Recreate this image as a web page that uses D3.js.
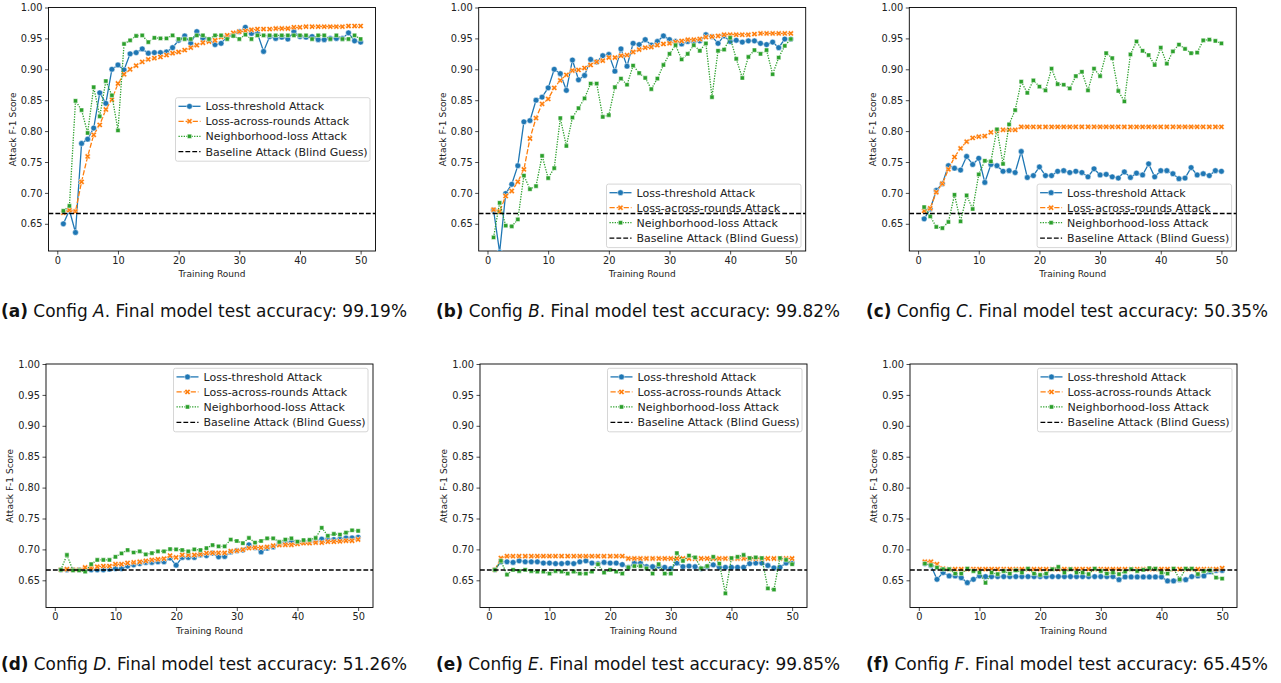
<!DOCTYPE html>
<html><head><meta charset="utf-8">
<script src="https://cdn.jsdelivr.net/npm/d3@7"></script>
<style>body{margin:0;background:#fff} svg{display:block}</style>
</head><body>
<svg id="c" width="1281" height="683"></svg>
<script>
// ---------------- DATA ----------------
const rounds = [1,2,3,4,5,6,7,8,9,10,11,12,13,14,15,16,17,18,19,20,21,22,23,24,25,26,27,28,29,30,31,32,33,34,35,36,37,38,39,40,41,42,43,44,45,46,47,48,49,50];
const xTicks = [0,10,20,30,40,50];
const yTicks = [0.65,0.70,0.75,0.80,0.85,0.90,0.95,1.00];
const seriesNames = ["Loss-threshold Attack","Loss-across-rounds Attack","Neighborhood-loss Attack"];
const baselineName = "Baseline Attack (Blind Guess)";
const baselineValue = 0.6667;
const panelLetters = ["a","b","c","d","e","f"];
const configNames = ["A","B","C","D","E","F"];
const accuracies = ["99.19%","99.82%","50.35%","51.26%","99.85%","65.45%"];

const aLoss = [0.650,0.672,0.636,0.780,0.787,0.805,0.862,0.845,0.900,0.907,0.899,0.925,0.927,0.933,0.926,0.927,0.927,0.928,0.935,0.947,0.954,0.942,0.961,0.950,0.948,0.940,0.942,0.953,0.955,0.961,0.968,0.958,0.958,0.929,0.953,0.950,0.952,0.949,0.961,0.953,0.952,0.953,0.948,0.948,0.950,0.950,0.950,0.959,0.946,0.944];
const aAcross = [0.668,0.672,0.670,0.718,0.759,0.794,0.810,0.835,0.851,0.877,0.892,0.900,0.906,0.912,0.916,0.918,0.920,0.923,0.926,0.928,0.931,0.935,0.939,0.943,0.945,0.947,0.952,0.955,0.959,0.961,0.962,0.964,0.965,0.965,0.965,0.966,0.966,0.966,0.968,0.968,0.969,0.969,0.969,0.969,0.969,0.969,0.969,0.970,0.970,0.970];
const aNeigh = [0.671,0.679,0.849,0.834,0.797,0.871,0.824,0.881,0.858,0.801,0.941,0.947,0.954,0.955,0.944,0.951,0.950,0.950,0.955,0.949,0.949,0.949,0.955,0.955,0.949,0.955,0.955,0.949,0.954,0.949,0.956,0.949,0.955,0.955,0.955,0.955,0.955,0.955,0.955,0.955,0.955,0.949,0.955,0.955,0.949,0.955,0.949,0.949,0.955,0.949];

const bLoss = [0.672,0.604,0.699,0.714,0.744,0.815,0.817,0.850,0.855,0.870,0.900,0.893,0.866,0.915,0.883,0.890,0.916,0.912,0.922,0.924,0.897,0.933,0.905,0.942,0.940,0.948,0.939,0.945,0.954,0.948,0.945,0.941,0.945,0.945,0.946,0.956,0.953,0.942,0.954,0.945,0.947,0.944,0.946,0.946,0.942,0.940,0.944,0.935,0.949,0.949];
const bAcross = [0.673,0.670,0.695,0.703,0.718,0.738,0.788,0.821,0.844,0.852,0.870,0.882,0.891,0.898,0.899,0.902,0.907,0.912,0.914,0.919,0.919,0.922,0.923,0.928,0.932,0.935,0.936,0.939,0.941,0.942,0.944,0.946,0.948,0.948,0.949,0.952,0.953,0.954,0.956,0.956,0.956,0.956,0.956,0.957,0.958,0.958,0.958,0.958,0.958,0.958];
const bNeigh = [0.628,0.684,0.647,0.646,0.657,0.728,0.706,0.711,0.760,0.724,0.740,0.821,0.776,0.822,0.837,0.853,0.877,0.877,0.823,0.826,0.871,0.885,0.875,0.906,0.894,0.886,0.868,0.885,0.907,0.925,0.939,0.916,0.925,0.939,0.930,0.942,0.855,0.930,0.932,0.951,0.917,0.886,0.920,0.931,0.925,0.931,0.892,0.919,0.938,0.949];

const cLoss = [0.658,0.674,0.704,0.715,0.744,0.740,0.737,0.759,0.746,0.756,0.717,0.746,0.744,0.735,0.736,0.733,0.767,0.725,0.728,0.742,0.728,0.728,0.735,0.736,0.733,0.735,0.733,0.726,0.739,0.729,0.730,0.726,0.724,0.734,0.725,0.732,0.729,0.747,0.726,0.736,0.736,0.731,0.723,0.724,0.741,0.729,0.731,0.728,0.736,0.735];
const cAcross = [0.671,0.675,0.701,0.715,0.738,0.758,0.772,0.783,0.789,0.791,0.792,0.798,0.801,0.802,0.802,0.802,0.807,0.807,0.807,0.807,0.807,0.807,0.807,0.807,0.807,0.807,0.807,0.807,0.807,0.807,0.807,0.807,0.807,0.807,0.807,0.807,0.807,0.807,0.807,0.807,0.807,0.807,0.807,0.807,0.807,0.807,0.807,0.807,0.807,0.807];
const cNeigh = [0.677,0.662,0.645,0.643,0.653,0.697,0.654,0.696,0.674,0.730,0.752,0.751,0.803,0.747,0.811,0.834,0.880,0.862,0.882,0.872,0.866,0.901,0.876,0.875,0.869,0.889,0.896,0.866,0.901,0.889,0.926,0.918,0.865,0.848,0.924,0.945,0.930,0.923,0.907,0.935,0.909,0.929,0.940,0.933,0.926,0.927,0.947,0.948,0.946,0.942];

const dLoss = [0.667,0.667,0.667,0.667,0.667,0.667,0.667,0.667,0.668,0.669,0.669,0.673,0.675,0.677,0.679,0.679,0.680,0.680,0.686,0.6745,0.687,0.687,0.687,0.691,0.690,0.694,0.688,0.6886,0.696,0.698,0.699,0.7075,0.703,0.696,0.702,0.704,0.710,0.711,0.712,0.711,0.7125,0.713,0.713,0.7166,0.7157,0.716,0.7166,0.7185,0.7185,0.7196];
const dAcross = [0.667,0.668,0.667,0.667,0.6707,0.6707,0.672,0.673,0.673,0.676,0.676,0.678,0.679,0.680,0.6815,0.683,0.684,0.685,0.690,0.687,0.691,0.691,0.691,0.692,0.694,0.6945,0.6945,0.6945,0.697,0.698,0.6995,0.702,0.703,0.703,0.704,0.706,0.707,0.7075,0.7075,0.709,0.710,0.710,0.711,0.711,0.7125,0.7125,0.713,0.714,0.714,0.716];
const dNeigh = [0.667,0.691,0.666,0.666,0.664,0.676,0.683,0.683,0.683,0.688,0.6935,0.699,0.695,0.697,0.692,0.694,0.697,0.697,0.7005,0.700,0.699,0.697,0.700,0.699,0.702,0.707,0.705,0.705,0.716,0.7136,0.710,0.7185,0.711,0.7136,0.718,0.718,0.712,0.716,0.718,0.7125,0.715,0.7155,0.7185,0.735,0.722,0.725,0.724,0.727,0.731,0.730];

const eLoss = [0.667,0.680,0.680,0.679,0.6815,0.680,0.680,0.680,0.678,0.678,0.677,0.677,0.678,0.677,0.680,0.6815,0.678,0.677,0.679,0.678,0.678,0.6755,0.671,0.678,0.678,0.672,0.672,0.673,0.671,0.669,0.678,0.672,0.673,0.672,0.669,0.672,0.675,0.671,0.671,0.671,0.671,0.671,0.677,0.678,0.678,0.674,0.670,0.671,0.678,0.678];
const eAcross = [0.667,0.686,0.689,0.689,0.689,0.689,0.689,0.689,0.689,0.689,0.689,0.689,0.689,0.689,0.689,0.689,0.689,0.689,0.689,0.689,0.689,0.689,0.6853,0.6853,0.6853,0.6853,0.6853,0.6853,0.6853,0.6853,0.6853,0.6853,0.6853,0.6853,0.6853,0.6853,0.6853,0.6853,0.6853,0.6853,0.6853,0.6853,0.6853,0.6853,0.6853,0.6853,0.6853,0.6853,0.6853,0.6853];
const eNeigh = [0.667,0.6815,0.659,0.667,0.665,0.667,0.665,0.664,0.664,0.661,0.665,0.664,0.661,0.664,0.661,0.661,0.664,0.676,0.6625,0.667,0.664,0.661,0.671,0.673,0.673,0.6695,0.661,0.676,0.661,0.661,0.694,0.6815,0.690,0.687,0.6695,0.673,0.688,0.677,0.629,0.686,0.688,0.691,0.686,0.687,0.686,0.637,0.635,0.686,0.683,0.676];

const fLoss = [0.677,0.674,0.6516,0.6625,0.657,0.657,0.6543,0.6462,0.6516,0.657,0.656,0.656,0.656,0.656,0.656,0.656,0.656,0.656,0.656,0.656,0.656,0.656,0.656,0.656,0.656,0.656,0.656,0.656,0.656,0.656,0.656,0.656,0.651,0.6554,0.6554,0.6554,0.6554,0.6554,0.6554,0.6554,0.649,0.649,0.651,0.651,0.656,0.657,0.657,0.664,0.666,0.666];
const fAcross = [0.680,0.680,0.676,0.669,0.668,0.668,0.668,0.668,0.668,0.668,0.668,0.668,0.668,0.668,0.668,0.668,0.668,0.668,0.668,0.668,0.668,0.668,0.668,0.668,0.668,0.668,0.668,0.668,0.668,0.668,0.668,0.668,0.668,0.668,0.668,0.668,0.668,0.668,0.668,0.668,0.668,0.668,0.668,0.668,0.668,0.668,0.668,0.668,0.668,0.6696];
const fNeigh = [0.677,0.6745,0.6707,0.668,0.668,0.661,0.661,0.669,0.665,0.6625,0.646,0.6625,0.660,0.665,0.661,0.666,0.6625,0.669,0.661,0.6587,0.661,0.668,0.6717,0.6625,0.668,0.6625,0.6625,0.660,0.669,0.665,0.661,0.6625,0.660,0.664,0.668,0.665,0.667,0.6696,0.669,0.6625,0.661,0.669,0.6516,0.669,0.669,0.660,0.665,0.666,0.6543,0.6527];

const panelSeries = [
  [aLoss,aAcross,aNeigh],[bLoss,bAcross,bNeigh],[cLoss,cAcross,cNeigh],
  [dLoss,dAcross,dNeigh],[eLoss,eAcross,eNeigh],[fLoss,fAcross,fNeigh]
];

// ---------------- LAYOUT / STYLE ----------------
const layout = [
  {x:48.5, y:7.5, w:327, h:243.5, leg:"cr", cx:1,   cw:406},
  {x:478.7,y:7.5, w:327, h:243.5, leg:"lr", cx:436, cw:404},
  {x:909.3,y:7.5, w:327, h:243.5, leg:"lr", cx:866, cw:402},
  {x:46,   y:364, w:327, h:243.5, leg:"ur", cx:1,   cw:406},
  {x:480,  y:364, w:327, h:243.5, leg:"ur", cx:436, cw:404},
  {x:910,  y:364, w:327, h:243.5, leg:"ur", cx:866, cw:402}
];
const captionBaselines = [317,317,317,670,670,670];
const colors = ["#1f77b4","#ff7f0e","#2ca02c"];
const dashes = [null,"5.2,1.9","1.3,1.3"];
const symbols = [
  d3.symbol(d3.symbolCircle, 26),
  d3.symbol(d3.symbolCross, 21),
  d3.symbol(d3.symbolSquare, 18)
];
const symRot = [0,45,0];
const FONT = "'DejaVu Sans', sans-serif";

const svg = d3.select("#c");

function drawMarker(g, k, px, py){
  g.append("path").attr("d", symbols[k]())
    .attr("transform", `translate(${px},${py}) rotate(${symRot[k]})`)
    .attr("fill", colors[k]).attr("stroke", "#fff").attr("stroke-width", 0.5);
}

layout.forEach((L, i) => {
  const g = svg.append("g").attr("transform", `translate(${L.x},${L.y})`);
  const x = d3.scaleLinear().domain([-1.45, 52.45]).range([0, L.w]);
  const y = d3.scaleLinear().domain([0.606, 1.0]).range([L.h, 0]);

  const clipId = "clip" + i;
  svg.append("clipPath").attr("id", clipId).append("rect")
    .attr("x", L.x).attr("y", L.y).attr("width", L.w).attr("height", L.h);

  // axes
  const xa = g.append("g").attr("transform", `translate(0,${L.h})`)
    .call(d3.axisBottom(x).tickValues(xTicks).tickSize(3.5).tickPadding(2.5).tickFormat(d3.format("d")));
  const ya = g.append("g")
    .call(d3.axisLeft(y).tickValues(yTicks).tickSize(3.5).tickPadding(2.5).tickFormat(d3.format(".2f")));
  [xa, ya].forEach(a => {
    a.select(".domain").remove();
    a.selectAll(".tick line").attr("stroke", "#000").attr("stroke-width", 0.7);
    a.selectAll(".tick text").attr("fill", "#222").style("font-family", FONT).style("font-size", "9.8px");
  });

  g.append("text").attr("x", L.w / 2).attr("y", L.h + 26)
    .attr("text-anchor", "middle").style("font-family", FONT).style("font-size", "9px").attr("fill", "#222")
    .text("Training Round");
  g.append("text").attr("transform", `translate(-33,${L.h / 2}) rotate(-90)`)
    .attr("text-anchor", "middle").style("font-family", FONT).style("font-size", "9px").attr("fill", "#222")
    .text("Attack F-1 Score");

  // series
  const plot = svg.append("g").attr("clip-path", `url(#${clipId})`)
    .append("g").attr("transform", `translate(${L.x},${L.y})`);
  const line = d3.line().x((d, j) => x(rounds[j])).y(d => y(d));
  panelSeries[i].forEach((vals, k) => {
    const p = plot.append("path").datum(vals).attr("d", line)
      .attr("fill", "none").attr("stroke", colors[k]).attr("stroke-width", 1.3);
    if (dashes[k]) p.attr("stroke-dasharray", dashes[k]);
    vals.forEach((v, j) => drawMarker(plot, k, x(rounds[j]), y(v)));
  });
  plot.append("line").attr("x1", 0).attr("x2", L.w)
    .attr("y1", y(baselineValue)).attr("y2", y(baselineValue))
    .attr("stroke", "#000").attr("stroke-width", 1.3).attr("stroke-dasharray", "4.8,2.1");

  // frame
  g.append("rect").attr("width", L.w).attr("height", L.h)
    .attr("fill", "none").attr("stroke", "#000").attr("stroke-width", 0.9);

  // legend
  const LW = 194.5, LH = 63.5;
  let lx, ly;
  if (L.leg === "cr") { lx = L.w - 5.5 - LW; ly = 90.2; }
  else if (L.leg === "lr") { lx = L.w - 4.7 - LW; ly = L.h - 3.4 - LH; }
  else { lx = L.w - 5 - LW; ly = 4.3; }
  const lg = g.append("g").attr("transform", `translate(${lx},${ly})`);
  lg.append("rect").attr("width", LW).attr("height", LH).attr("rx", 2)
    .attr("fill", "#fff").attr("fill-opacity", 0.8).attr("stroke", "#ccc").attr("stroke-width", 0.8);
  const rowY = [8.6, 23.6, 38.6, 54.0];
  const names = seriesNames.concat([baselineName]);
  names.forEach((nm, k) => {
    const ry = rowY[k];
    const ln = lg.append("line").attr("x1", 3).attr("x2", 25).attr("y1", ry).attr("y2", ry)
      .attr("stroke", k < 3 ? colors[k] : "#000").attr("stroke-width", 1.3);
    if (k < 3 && dashes[k]) ln.attr("stroke-dasharray", dashes[k]);
    if (k === 3) ln.attr("stroke-dasharray", "4.8,2.1");
    if (k < 3) drawMarker(lg, k, 14, ry);
    lg.append("text").attr("x", 30).attr("y", ry).attr("dy", "0.35em")
      .style("font-family", FONT).style("font-size", "11px").attr("fill", "#222").text(nm);
  });

  // caption
  const cap = svg.append("text").attr("x", L.cx).attr("y", captionBaselines[i])
    .style("font-family", "'DejaVu Sans', sans-serif").style("font-size", "17.5px").attr("fill", "#111")
    .attr("textLength", L.cw).attr("lengthAdjust", "spacingAndGlyphs");
  cap.append("tspan").style("font-weight", "bold").text(`(${panelLetters[i]})`);
  cap.append("tspan").text(" Config ");
  cap.append("tspan").style("font-style", "italic").text(configNames[i]);
  cap.append("tspan").text(`. Final model test accuracy: ${accuracies[i]}`);
});
</script>
</body></html>
